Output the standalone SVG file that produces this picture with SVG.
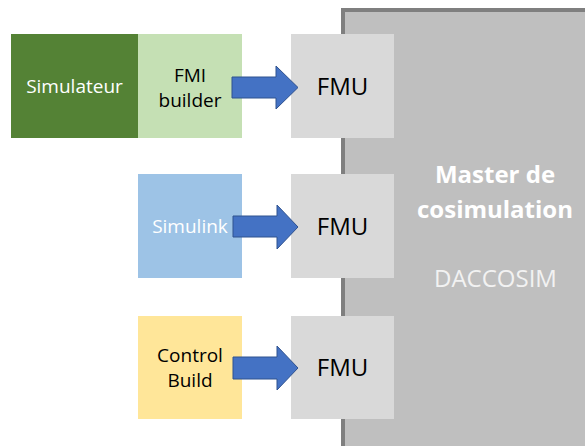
<svg xmlns="http://www.w3.org/2000/svg" width="585" height="446" viewBox="0 0 585 446">
<style>
text{font-family:"Open Sans","Liberation Sans",sans-serif;text-anchor:middle}
.lbl{font-size:19px}
.fmu{font-size:24px;fill:#000}
.fmubox{fill:#d9d9d9}
.arrow{fill:#4472c4;stroke:#2f528f;stroke-width:1}
</style>
<rect width="585" height="446" fill="#ffffff"/>
<g id="master">
<rect x="343" y="10" width="260" height="450" fill="#bfbfbf" stroke="#7f7f7f" stroke-width="4"/>
<text x="495" y="183" font-size="24" font-weight="bold" fill="#ffffff">Master de</text>
<text x="495" y="218" font-size="24" font-weight="bold" fill="#ffffff">cosimulation</text>
<text x="495.5" y="287" font-size="24" fill="#f2f2f2">DACCOSIM</text>
</g>
<g id="simulateur">
<rect x="11" y="34" width="127" height="104" fill="#548235"/>
<text class="lbl" x="74.5" y="93" fill="#ffffff">Simulateur</text>
</g>
<g id="fmibuilder">
<rect x="138" y="34" width="104" height="104" fill="#c5e0b4"/>
<text class="lbl" x="190" y="82" fill="#000">FMI</text>
<text class="lbl" x="190" y="107" fill="#000">builder</text>
</g>
<g id="simulink">
<rect x="138" y="174" width="104" height="104" fill="#9dc3e6"/>
<text class="lbl" x="190" y="233" fill="#ffffff">Simulink</text>
</g>
<g id="controlbuild">
<rect x="138" y="316" width="104" height="103" fill="#ffe699"/>
<text class="lbl" x="190" y="362" fill="#000">Control</text>
<text class="lbl" x="190" y="387" fill="#000">Build</text>
</g>
<g id="fmu1">
<rect class="fmubox" x="291" y="34" width="103" height="104"/>
<text class="fmu" x="342.5" y="95">FMU</text>
</g>
<g id="fmu2">
<rect class="fmubox" x="291" y="174" width="103" height="104"/>
<text class="fmu" x="342.5" y="235">FMU</text>
</g>
<g id="fmu3">
<rect class="fmubox" x="291" y="316" width="103" height="103"/>
<text class="fmu" x="342.5" y="376">FMU</text>
</g>
<g id="connectors">
<polygon class="arrow" points="232,77 276,77 276,66 298,87.5 276,109 276,98 232,98"/>
<polygon class="arrow" points="233,216 277,216 277,205 298,227 277,249 277,237 233,237"/>
<polygon class="arrow" points="233,357 277,357 277,346 298,368 277,390 277,379 233,379"/>
</g>
</svg>
